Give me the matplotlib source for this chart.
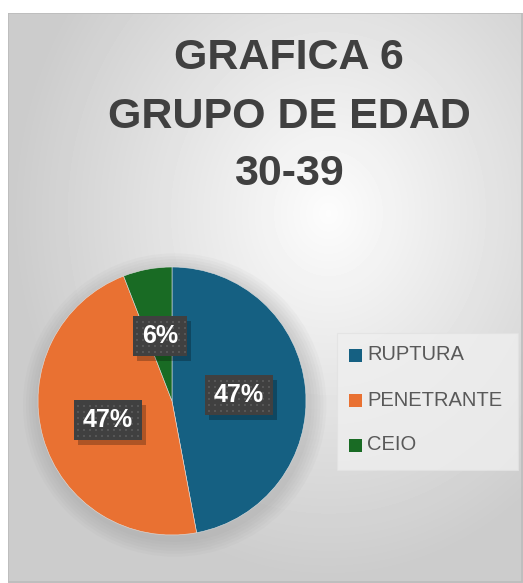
import numpy as np
import matplotlib.pyplot as plt
from matplotlib.patches import Rectangle, Circle

# data
categorias = ['RUPTURA', 'PENETRANTE', 'CEIO']
casos = [8, 8, 1]
colores = ['#156082', '#E97132', '#196B24']
titulo = ['GRAFICA 6', 'GRUPO DE EDAD', '30-39']

W, H = 523, 583
fig = plt.figure(figsize=(W / 100, H / 100), dpi=100)
fig.patch.set_facecolor('white')

# background panel with radial gradient
bg = fig.add_axes([8 / W, 0, 1 - 8 / W, 1 - 13 / H])
bg.set_axis_off()
yy, xx = np.mgrid[0:570, 0:515]
d = np.sqrt(((xx - 320) / 330.0) ** 2 + ((yy - 200) / 380.0) ** 2)
shade = np.clip(0.99 - 0.20 * d, 0.80, 0.99)
bg.imshow(shade, cmap='gray', vmin=0, vmax=1, aspect='auto', extent=[0, 515, 570, 0])
bg.add_patch(Rectangle((0, 0), 514, 569, fill=False, ec='#bcbcbc', lw=1.2))

# title, one line at a time
for linea, ty in zip(titulo, [58, 117, 174]):
    fig.text(289 / W, 1 - ty / H, linea, ha='center', va='center', fontsize=31,
             fontweight='bold', color='#404040', family='Liberation Sans')

# pie
cx, cy, r = 172, 401, 134
ax = fig.add_axes([(cx - r) / W, 1 - (cy + r) / H, 2 * r / W, 2 * r / H])
for k in range(6):
    ax.add_patch(Circle((0.02, -0.03), 1.0 + 0.022 * (k + 1), color='#888888',
                        alpha=0.05, lw=0, zorder=0, clip_on=False))
wedges, _ = ax.pie(casos, colors=colores, startangle=90, counterclock=False,
                   radius=1, wedgeprops=dict(linewidth=0.4, edgecolor='#e0e0e0'))
for w in wedges:
    w.set_zorder(2)
ax.set_xlim(-1, 1)
ax.set_ylim(-1, 1)
ax.set_aspect('equal')
ax.set_axis_off()

# labels
label_pos = [(239, 395), (108, 420), (160, 336)]
total = sum(casos)
for v, (px, py) in zip(casos, label_pos):
    txt = f'{round(100 * v / total)}%'
    x = (px - cx) / r
    y = -(py - cy) / r
    bw = (68 if len(txt) > 2 else 54) / r
    bh = 40 / r
    ax.add_patch(Rectangle((x - bw / 2 + 0.03, y - bh / 2 - 0.035), bw, bh,
                           color='#000000', alpha=0.25, lw=0, zorder=3))
    ax.add_patch(Rectangle((x - bw / 2, y - bh / 2), bw, bh, color='#404040',
                           lw=0, zorder=4))
    gx = np.arange(x - bw / 2 + 0.03, x + bw / 2, 0.045)
    gy = np.arange(y - bh / 2 + 0.03, y + bh / 2, 0.045)
    GX, GY = np.meshgrid(gx, gy)
    ax.scatter(GX.ravel(), GY.ravel(), s=1.0, c='#565656', marker='s', lw=0, zorder=5)
    ax.text(x, y, txt, ha='center', va='center', fontsize=18, fontweight='bold',
            color='white', family='Liberation Sans', zorder=6)

# legend
fig.patches.append(Rectangle((337 / W, 1 - 470 / H), 181 / W, 137 / H,
                             transform=fig.transFigure, fc='#efefef', ec='#e2e2e2',
                             lw=0.8, alpha=0.8))
for i, (nombre, col) in enumerate(zip(categorias, colores)):
    ty = 355 + 45 * i
    fig.patches.append(Rectangle((349 / W, 1 - (ty + 7) / H), 13 / W, 13 / H,
                                 transform=fig.transFigure, fc=col, lw=0))
    fig.text(367 / W, 1 - ty / H, nombre, ha='left', va='center', fontsize=14.5,
             color='#595959', family='Liberation Sans')

fig.savefig('out.png', dpi=100)
